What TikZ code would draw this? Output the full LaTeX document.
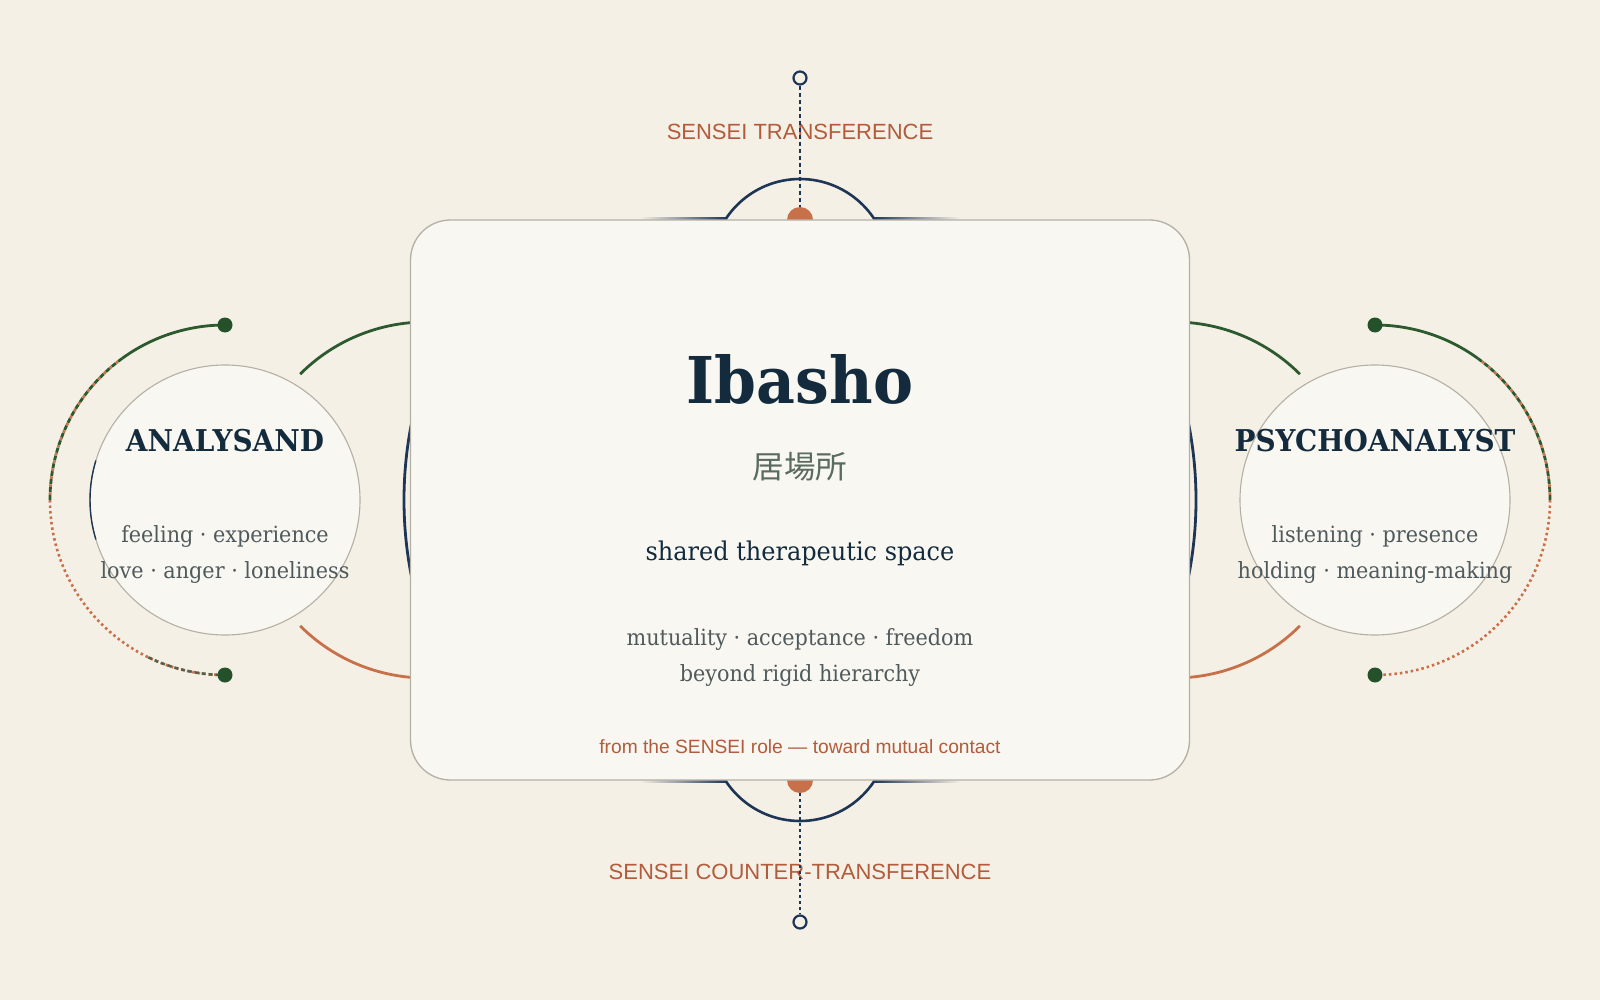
\documentclass[tikz,border=0pt]{standalone}
\usepackage{fontspec}
\newfontfamily\geo[FakeStretch=0.93]{DejaVu Serif}
\newfontfamily\arl{Liberation Sans}
\newfontfamily\cjk{Noto Sans CJK JP}
\usetikzlibrary{calc}
\definecolor{bg}{HTML}{F5F0E6}
\definecolor{card}{HTML}{F9F7F2}
\definecolor{cardline}{HTML}{B5B0A5}
\definecolor{navy}{HTML}{1E3556}
\definecolor{ink}{HTML}{132B3C}
\definecolor{leaf}{HTML}{2C5A2E}
\definecolor{dotgreen}{HTML}{24502A}
\definecolor{rust}{HTML}{C8704A}
\definecolor{rusttext}{HTML}{B35B3B}
\definecolor{slate}{HTML}{4F5A5C}
\definecolor{jade}{HTML}{5A6B60}
\definecolor{olivegray}{HTML}{55604A}
\tikzset{
  navyline/.style={draw=navy, line width=2.8pt},
  leafline/.style={draw=leaf, line width=2.8pt},
  rustline/.style={draw=rust, line width=2.8pt},
  endring/.style={circle, draw=navy, fill=bg, line width=2.2pt, minimum size=13pt, inner sep=0pt},
  halfdot/.style={circle, fill=rust, minimum size=26pt, inner sep=0pt},
  gdot/.style={circle, fill=dotgreen, minimum size=15pt, inner sep=0pt},
  rolecircle/.style={circle, draw=cardline, fill=card, line width=1.1pt, minimum size=270pt, inner sep=0pt},
  sensei/.style={font=\arl\fontsize{22}{26}\selectfont, text=rusttext, inner sep=0pt},
  rolehead/.style={font=\geo\bfseries\fontsize{30}{34}\selectfont, text=ink, anchor=base, inner sep=0pt},
  roletext/.style={font=\geo\fontsize{22.3}{26}\selectfont, text=slate, anchor=base, inner sep=0pt},
  mixgreen/.style={leaf, line width=2.8pt, dash pattern=on 5pt off 3pt},
  mixrust/.style={rust, line width=2.8pt, dash pattern=on 2.5pt off 5.5pt, dash phase=-5.25pt},
  rustdots/.style={rust, line width=2.6pt, dash pattern=on 2.5pt off 3pt},
}
\begin{document}
\begin{tikzpicture}[x=1pt,y=1pt]
\fill[bg] (0,0) rectangle (1600,-1000);
\useasboundingbox (0,0) rectangle (1600,-1000);
\coordinate (L) at (225,-500);
\coordinate (R) at (1375,-500);
\coordinate (C) at (800,-500);
\coordinate (LI) at (426,-500);
\coordinate (RI) at (1174,-500);

% big navy side arcs
\draw[navyline] ($(C)+(160:396)$) arc[start angle=160, end angle=200, radius=396];
\draw[navyline] ($(C)+(-20:396)$) arc[start angle=-20, end angle=20, radius=396];

% top and bottom bumps
\draw[navyline, line width=2.6pt] (800,-268) circle[radius=89];
\draw[navyline, line width=2.6pt] (800,-732) circle[radius=89];
\shade[left color=bg, right color=navy] (640,-217.3) rectangle (727,-220.5);
\shade[left color=navy, right color=bg] (873,-217.3) rectangle (960,-220.5);
\shade[left color=bg, right color=navy] (640,-779.5) rectangle (727,-782.7);
\shade[left color=navy, right color=bg] (873,-779.5) rectangle (960,-782.7);

\node[halfdot] (tdot) at (800,-220) {};
\node[halfdot] (bdot) at (800,-780) {};

% inner arcs between roles and card
\draw[leafline] ($(LI)+(135:178)$) arc[start angle=135, end angle=90, radius=178];
\draw[rustline] ($(LI)+(225:178)$) arc[start angle=225, end angle=270, radius=178];
\draw[leafline] ($(RI)+(45:178)$) arc[start angle=45, end angle=90, radius=178];
\draw[rustline] ($(RI)+(315:178)$) arc[start angle=315, end angle=270, radius=178];

% outer arcs left
\draw[leaf, line width=2.8pt] ($(L)+(90:175)$) arc[start angle=90, end angle=126, radius=175];
\draw[mixgreen] ($(L)+(126:175)$) arc[start angle=126, end angle=180, radius=175];
\draw[mixrust] ($(L)+(126:175)$) arc[start angle=126, end angle=180, radius=175];
\draw[rustdots] ($(L)+(180:175)$) arc[start angle=180, end angle=270, radius=175];
\draw[olivegray, line width=2.6pt, dash pattern=on 4pt off 3pt] ($(L)+(244:175)$) arc[start angle=244, end angle=270, radius=175];

% outer arcs right
\draw[leaf, line width=2.8pt] ($(R)+(90:175)$) arc[start angle=90, end angle=54, radius=175];
\draw[mixgreen] ($(R)+(54:175)$) arc[start angle=54, end angle=0, radius=175];
\draw[mixrust] ($(R)+(54:175)$) arc[start angle=54, end angle=0, radius=175];
\draw[rustdots] ($(R)+(0:175)$) arc[start angle=0, end angle=-90, radius=175];

\node[gdot] (lt) at ($(L)+(0,175)$) {};
\node[gdot] (lb) at ($(L)+(0,-175)$) {};
\node[gdot] (rt) at ($(R)+(0,175)$) {};
\node[gdot] (rb) at ($(R)+(0,-175)$) {};

% role circles
\node[rolecircle] (an) at (L) {};
\node[rolecircle] (ps) at (R) {};
\draw[navy, line width=1.4pt] ($(L)+(163:135)$) arc[start angle=163, end angle=197, radius=135];

% card
\node[draw=cardline, fill=card, line width=1.3pt, rounded corners=40pt, minimum width=779pt, minimum height=560pt, inner sep=0pt] (card) at (C) {};

% card texts
\node[font=\geo\bfseries\fontsize{64.5}{72}\selectfont, text=ink, anchor=base, inner sep=0pt] (title) at (800,-403) {Ibasho};
\node[font=\cjk\fontsize{31.5}{36}\selectfont, text=jade, inner sep=0pt] (kanji) at (800,-467) {居場所};
\node[font=\geo\fontsize{25.8}{30}\selectfont, text=ink, anchor=base, inner sep=0pt] (shared) at (800,-560) {shared therapeutic space};
\node[roletext] (mu) at (800,-645.7) {mutuality · acceptance · freedom};
\node[roletext] (be) at (800,-681.7) {beyond rigid hierarchy};
\node[font=\arl\fontsize{19.2}{23}\selectfont, text=rusttext, anchor=base, inner sep=0pt] (from) at (800,-753.3) {from the SENSEI role — toward mutual contact};

% role texts
\node[rolehead] (anh) at (225,-451) {ANALYSAND};
\node[roletext] (an1) at (225,-542.7) {feeling · experience};
\node[roletext] (an2) at (225,-578) {love · anger · loneliness};
\node[rolehead] (psh) at (1375,-451) {PSYCHOANALYST};
\node[roletext] (ps1) at (1375,-542.7) {listening · presence};
\node[roletext] (ps2) at (1375,-578) {holding · meaning-making};

% sensei labels and axes
\node[sensei] (tt) at (800,-132) {SENSEI TRANSFERENCE};
\node[sensei] (ct) at (800,-872) {SENSEI COUNTER-TRANSFERENCE};
\node[endring] (tp) at (800,-78) {};
\node[endring] (bp) at (800,-922) {};
\draw[navy, line width=2.5pt, dash pattern=on 4.5pt off 2.5pt] (tp) -- (tdot);
\draw[navy, line width=2.5pt, dash pattern=on 3pt off 3pt] (bdot) -- (bp);
\end{tikzpicture}
\end{document}
